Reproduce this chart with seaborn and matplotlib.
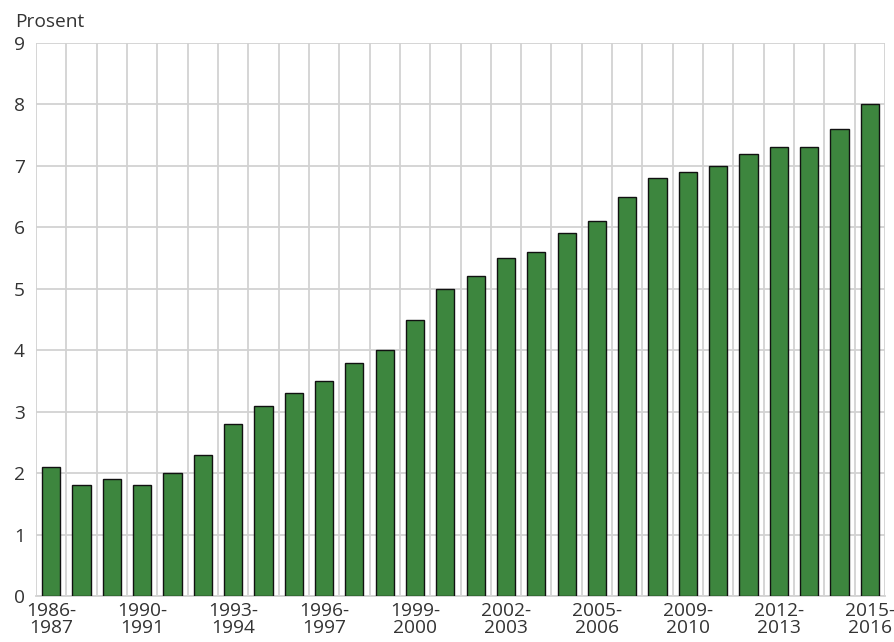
import matplotlib
matplotlib.use("Agg")
import matplotlib.pyplot as plt
import seaborn as sns
import pandas as pd

# School years (one per bar)
years = [
    "1986-1987", "1987-1988", "1989-1990", "1990-1991", "1991-1992", "1992-1993",
    "1993-1994", "1994-1995", "1995-1996", "1996-1997", "1997-1998", "1998-1999",
    "1999-2000", "2000-2001", "2001-2002", "2002-2003", "2003-2004", "2004-2005",
    "2005-2006", "2006-2007", "2008-2009", "2009-2010", "2010-2011", "2011-2012",
    "2012-2013", "2013-2014", "2014-2015", "2015-2016",
]
# Share in percent
values = [
    2.1, 1.8, 1.9, 1.8, 2.0, 2.3, 2.8, 3.1, 3.3, 3.5, 3.8, 4.0, 4.5, 5.0,
    5.2, 5.5, 5.6, 5.9, 6.1, 6.5, 6.8, 6.9, 7.0, 7.2, 7.3, 7.3, 7.6, 8.0,
]
# Years shown on the x axis
shown_years = ["1986-1987", "1990-1991", "1993-1994", "1996-1997", "1999-2000",
               "2002-2003", "2005-2006", "2009-2010", "2012-2013", "2015-2016"]
y_ticks = [0, 1, 2, 3, 4, 5, 6, 7, 8, 9]

df = pd.DataFrame({"year": years, "value": values})

sns.set_theme(style="white")
plt.rcParams["font.family"] = ["Open Sans", "DejaVu Sans"]
text_color = "#333333"
grid_color = "#d2d2d2"
fs = 13.8

fig = plt.figure(figsize=(8.94, 6.42), dpi=100)
ax = fig.add_axes([36 / 894, 1 - 596 / 642, (885 - 36) / 894, (596 - 43) / 642])

sns.barplot(data=df, x="year", y="value", color="#3d863e", saturation=1,
            width=0.6, edgecolor="#111111", linewidth=1.0, ax=ax, zorder=3)

n = len(years)
ax.set_xlim(-0.5, n - 0.5)
ax.set_ylim(0, 9)
ax.set_yticks(y_ticks)
ax.set_yticklabels([str(t) for t in y_ticks])

pos = [years.index(y) for y in shown_years]
ax.set_xticks(pos)
ax.set_xticklabels([y.replace("-", "-\n") for y in shown_years], linespacing=0.95)
ax.set_xticks([i - 0.5 for i in range(n + 1)], minor=True)

ax.grid(False)
ax.yaxis.grid(True, color=grid_color, linewidth=1.3, zorder=0)
ax.xaxis.grid(True, which="minor", color=grid_color, linewidth=1.3, zorder=0)
ax.set_axisbelow(True)

for s in ax.spines.values():
    s.set_visible(False)
ax.spines["bottom"].set_visible(True)
ax.spines["bottom"].set_color(grid_color)
ax.spines["bottom"].set_linewidth(1.3)

ax.tick_params(axis="both", which="both", length=0, labelsize=fs, labelcolor=text_color)
ax.tick_params(axis="x", pad=4)
ax.tick_params(axis="y", pad=8)
ax.set_xlabel("")
ax.set_ylabel("")

fig.text(15 / 894, 1 - 22 / 642, "Prosent", fontsize=fs, color=text_color,
         ha="left", va="center")

fig.savefig("out.png", dpi=100)
